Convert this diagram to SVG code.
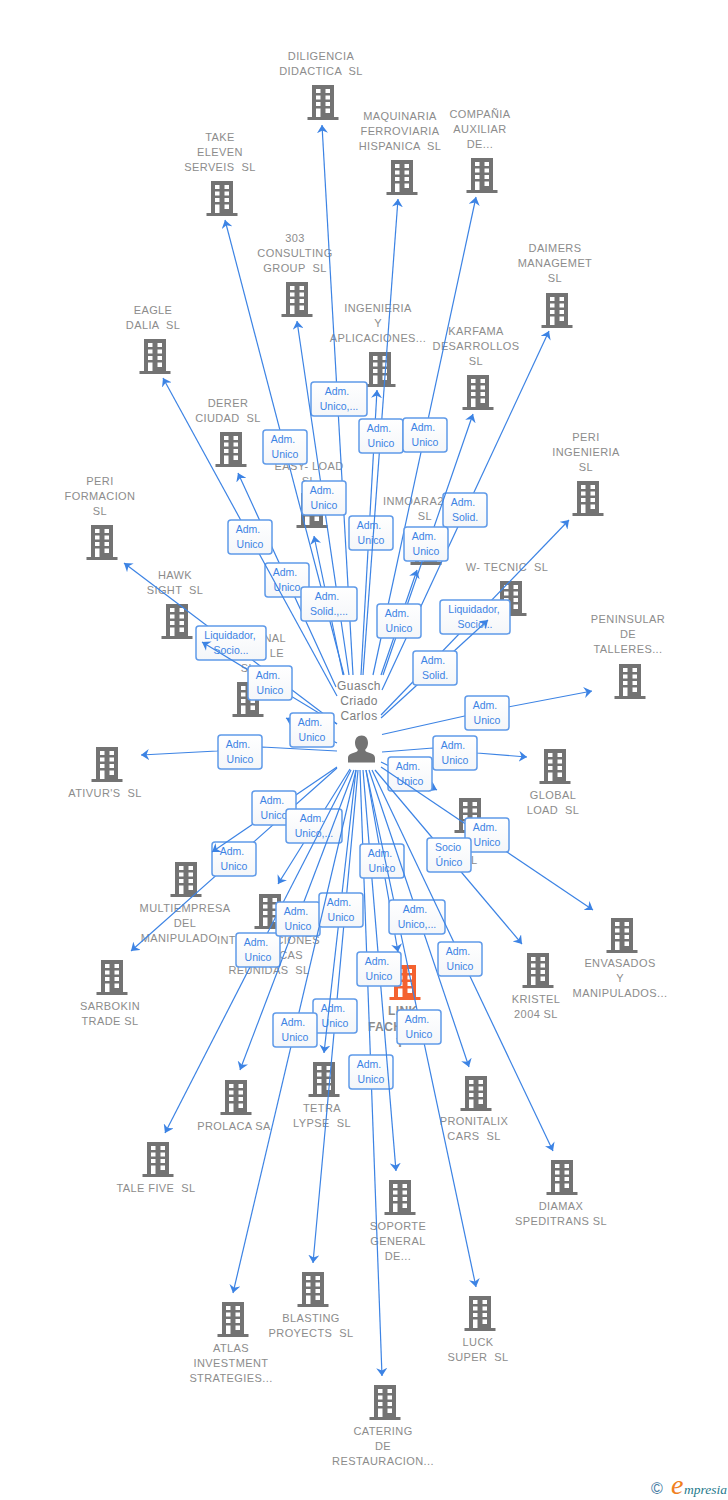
<svg xmlns="http://www.w3.org/2000/svg" width="728" height="1500" viewBox="0 0 728 1500">
<style>
text{font-family:"Liberation Sans",Arial,sans-serif}
.t{font-size:11px;fill:#8c8c8c;text-anchor:middle;letter-spacing:.4px;white-space:pre}
.s{text-anchor:start}.f{text-anchor:end}
.o{font-size:12px;font-weight:bold;fill:#8c8c8c;letter-spacing:.4px}
.g{font-size:12px;fill:#7d7d7d;text-anchor:middle;letter-spacing:.4px}
.c line,.c polyline{stroke:#3c83e4;stroke-width:1.2;marker-end:url(#a);fill:none}
.c rect{fill:url(#lg);stroke:#5f9ae9;stroke-width:1.5}
.c text{font-size:10.5px;fill:#3c83e4;text-anchor:middle}
</style>
<defs>
<linearGradient id="lg" x1="0" y1="0" x2="0" y2="1"><stop offset="0" stop-color="#fff"/><stop offset="1" stop-color="#f4f6f9"/></linearGradient>
<marker id="a" markerUnits="userSpaceOnUse" viewBox="0 0 8 11" refX="8" refY="5.5" markerWidth="8" markerHeight="11" orient="auto"><path d="M8,5.5L0,0L2.5,5.5L0,11z" fill="#3c83e4"/></marker>
<path id="w" d="M-7,4h4.5v4h-4.5zM2.5,4h4.5v4h-4.5zM-7,10.5h4.5v4h-4.5zM2.5,10.5h4.5v4h-4.5zM-7,17h4.5v4h-4.5zM2.5,17h4.5v4h-4.5zM-7,23.5h4.5v8.5h-4.5zM2.5,23.5h4.5v4.5h-4.5z" fill="#fff"/>
<g id="b"><path d="M-11,0h22v32h4.5v3h-31v-3h4.5z" fill="#737373"/><use href="#w"/></g>
<g id="bo"><path d="M-11,0h22v32h4.5v3h-31v-3h4.5z" fill="#f4622f"/><use href="#w"/></g>
</defs>
<g id="nodes">
<g id="n-diligencia"><use href="#b" x="323" y="85"/><text class="t" x="321" y="60">DILIGENCIA</text><text class="t" x="321" y="75">DIDACTICA  SL</text></g>
<g id="n-maquinaria"><use href="#b" x="402" y="160"/><text class="t" x="400" y="120">MAQUINARIA</text><text class="t" x="400" y="135">FERROVIARIA</text><text class="t" x="400" y="150">HISPANICA  SL</text></g>
<g id="n-compania"><use href="#b" x="482" y="158"/><text class="t" x="480" y="118">COMPAÑIA</text><text class="t" x="480" y="133">AUXILIAR</text><text class="t" x="480" y="148">DE...</text></g>
<g id="n-take"><use href="#b" x="222" y="181"/><text class="t" x="220" y="141">TAKE</text><text class="t" x="220" y="156">ELEVEN</text><text class="t" x="220" y="171">SERVEIS  SL</text></g>
<g id="n-303"><use href="#b" x="297" y="282"/><text class="t" x="295" y="242">303</text><text class="t" x="295" y="257">CONSULTING</text><text class="t" x="295" y="272">GROUP  SL</text></g>
<g id="n-daimers"><use href="#b" x="557" y="293"/><text class="t" x="555" y="252">DAIMERS</text><text class="t" x="555" y="267">MANAGEMET</text><text class="t" x="555" y="282">SL</text></g>
<g id="n-eagle"><use href="#b" x="155" y="339"/><text class="t" x="153" y="314">EAGLE</text><text class="t" x="153" y="329">DALIA  SL</text></g>
<g id="n-ingenieria"><use href="#b" x="380" y="352"/><text class="t" x="378" y="312">INGENIERIA</text><text class="t" x="378" y="327">Y</text><text class="t" x="378" y="342">APLICACIONES...</text></g>
<g id="n-karfama"><use href="#b" x="478" y="375"/><text class="t" x="476" y="335">KARFAMA</text><text class="t" x="476" y="350">DESARROLLOS</text><text class="t" x="476" y="365">SL</text></g>
<g id="n-derer"><use href="#b" x="231" y="432"/><text class="t" x="228" y="407">DERER</text><text class="t" x="228" y="422">CIUDAD  SL</text></g>
<g id="n-easy"><use href="#b" x="312" y="493"/><text class="t" x="309" y="470">EASY- LOAD</text><text class="t" x="309" y="485">SL</text></g>
<g id="n-periing"><use href="#b" x="588" y="481"/><text class="t" x="586" y="441">PERI</text><text class="t" x="586" y="456">INGENIERIA</text><text class="t" x="586" y="471">SL</text></g>
<g id="n-periform"><use href="#b" x="102" y="525"/><text class="t" x="100" y="485">PERI</text><text class="t" x="100" y="500">FORMACION</text><text class="t" x="100" y="515">SL</text></g>
<g id="n-inmoara"><use href="#b" x="426" y="530"/><text class="t s" x="383" y="505">INMOARA2</text><text class="t" x="425" y="520">SL</text></g>
<g id="n-wtecnic"><use href="#b" x="511" y="581"/><text class="t" x="507" y="571">W- TECNIC  SL</text></g>
<g id="n-hawk"><use href="#b" x="177" y="604"/><text class="t" x="175" y="579">HAWK</text><text class="t" x="175" y="594">SIGHT  SL</text></g>
<g id="n-peninsular"><use href="#b" x="630" y="664"/><text class="t" x="628" y="623">PENINSULAR</text><text class="t" x="628" y="638">DE</text><text class="t" x="628" y="653">TALLERES...</text></g>
<g id="n-nal"><use href="#b" x="248" y="682"/><text class="t f" x="286" y="642">NAL</text><text class="t f" x="284" y="657">LE</text><text class="t" x="248" y="672">SL</text></g>
<g id="n-ativur"><use href="#b" x="107" y="747"/><text class="t" x="105" y="797">ATIVUR'S  SL</text></g>
<g id="n-global"><use href="#b" x="555" y="749"/><text class="t" x="553" y="799">GLOBAL</text><text class="t" x="553" y="814">LOAD  SL</text></g>
<g id="n-hidden"><use href="#b" x="470" y="798"/><text class="t s" x="471" y="864">L</text></g>
<g id="n-envasados"><use href="#b" x="622" y="918"/><text class="t" x="620" y="967">ENVASADOS</text><text class="t" x="620" y="982">Y</text><text class="t" x="620" y="997">MANIPULADOS...</text></g>
<g id="n-multi"><use href="#b" x="186" y="862"/><text class="t" x="185" y="912">MULTIEMPRESA</text><text class="t" x="185" y="927">DEL</text><text class="t" x="179" y="942">MANIPULADO</text></g>
<g id="n-reunidas"><use href="#b" x="270" y="894"/><text class="t s" x="217" y="944">INT</text><text class="t f" x="320" y="944">CIONES</text><text class="t f" x="303" y="959">CAS</text><text class="t" x="269" y="974">REUNIDAS  SL</text></g>
<g id="n-sarbokin"><use href="#b" x="112" y="960"/><text class="t" x="110" y="1010">SARBOKIN</text><text class="t" x="110" y="1025">TRADE SL</text></g>
<g id="n-kristel"><use href="#b" x="538" y="953"/><text class="t" x="536" y="1003">KRISTEL</text><text class="t" x="536" y="1018">2004 SL</text></g>
<g id="n-link"><use href="#bo" x="405" y="965"/><text class="o" x="388" y="1015">LINK</text><text class="o" x="368" y="1031">FACH</text><text class="o" x="396" y="1047">Y</text></g>
<g id="n-tetra"><use href="#b" x="324" y="1062"/><text class="t" x="322" y="1112">TETRA</text><text class="t" x="322" y="1127">LYPSE  SL</text></g>
<g id="n-prolaca"><use href="#b" x="236" y="1080"/><text class="t" x="234" y="1130">PROLACA SA</text></g>
<g id="n-pronitalix"><use href="#b" x="476" y="1076"/><text class="t" x="474" y="1125">PRONITALIX</text><text class="t" x="474" y="1140">CARS  SL</text></g>
<g id="n-talefive"><use href="#b" x="158" y="1142"/><text class="t" x="156" y="1192">TALE FIVE  SL</text></g>
<g id="n-diamax"><use href="#b" x="562" y="1160"/><text class="t" x="561" y="1210">DIAMAX</text><text class="t" x="561" y="1225">SPEDITRANS SL</text></g>
<g id="n-soporte"><use href="#b" x="400" y="1180"/><text class="t" x="398" y="1230">SOPORTE</text><text class="t" x="398" y="1245">GENERAL</text><text class="t" x="398" y="1260">DE...</text></g>
<g id="n-blasting"><use href="#b" x="313" y="1272"/><text class="t" x="311" y="1322">BLASTING</text><text class="t" x="311" y="1337">PROYECTS  SL</text></g>
<g id="n-luck"><use href="#b" x="480" y="1296"/><text class="t" x="478" y="1346">LUCK</text><text class="t" x="478" y="1361">SUPER  SL</text></g>
<g id="n-atlas"><use href="#b" x="233" y="1302"/><text class="t" x="231" y="1352">ATLAS</text><text class="t" x="231" y="1367">INVESTMENT</text><text class="t" x="231" y="1382">STRATEGIES...</text></g>
<g id="n-catering"><use href="#b" x="385" y="1385"/><text class="t" x="383" y="1435">CATERING</text><text class="t" x="383" y="1450">DE</text><text class="t" x="383" y="1465">RESTAURACION...</text></g>
<g id="n-guasch"><path d="M361.700,735.500c4,0 6.300,3 6.300,7.500c0,3 -1.300,5.300 -2.800,6.800c0,1.500 1,2 3.200,2.700c4.300,1.300 6.600,2.500 6.600,5.500v4.500h-27v-4.500c0,-3 2.300,-4.200 6.600,-5.500c2.200,-.7 3.200,-1.200 3.200,-2.700c-1.500,-1.500 -2.800,-3.800 -2.800,-6.800c0,-4.500 2.300,-7.500 6.700,-7.500z" fill="#737373"/><text class="g" x="359" y="690">Guasch</text><text class="g" x="359" y="705">Criado</text><text class="g" x="359" y="720">Carlos</text></g>
</g>
<g id="connectors" class="c">
<line x1="353" y1="675" x2="322" y2="125"/><g transform="translate(339,399)"><rect x="-28" y="-17" width="56" height="34" rx="3"/><text x="-2" y="-4">Adm.</text><text y="11">Unico,...</text></g>
<line x1="344" y1="675" x2="225" y2="220"/><g transform="translate(285,447)"><rect x="-22" y="-17" width="44" height="34" rx="3"/><text x="-2" y="-4">Adm.</text><text y="11">Unico</text></g>
<line x1="361" y1="675" x2="377" y2="390"/><g transform="translate(371,533)"><rect x="-22" y="-17" width="44" height="34" rx="3"/><text x="-2" y="-4">Adm.</text><text y="11">Unico</text></g>
<line x1="363" y1="675" x2="398" y2="199"/><g transform="translate(381,436)"><rect x="-22" y="-17" width="44" height="34" rx="3"/><text x="-2" y="-4">Adm.</text><text y="11">Unico</text></g>
<line x1="373" y1="675" x2="476" y2="197"/><g transform="translate(425,435)"><rect x="-22" y="-17" width="44" height="34" rx="3"/><text x="-2" y="-4">Adm.</text><text y="11">Unico</text></g>
<line x1="349" y1="675" x2="297" y2="321"/><g transform="translate(324,498)"><rect x="-22" y="-17" width="44" height="34" rx="3"/><text x="-2" y="-4">Adm.</text><text y="11">Unico</text></g>
<line x1="336" y1="687" x2="238" y2="473"/><g transform="translate(287,580)"><rect x="-22" y="-17" width="44" height="34" rx="3"/><text x="-2" y="-4">Adm.</text><text y="11">Unico</text></g>
<line x1="337" y1="696" x2="163" y2="378"/><g transform="translate(250,537)"><rect x="-22" y="-17" width="44" height="34" rx="3"/><text x="-2" y="-4">Adm.</text><text y="11">Unico</text></g>
<line x1="382" y1="690" x2="549" y2="331"/><g transform="translate(465,510)"><rect x="-22" y="-17" width="44" height="34" rx="3"/><text x="-2" y="-4">Adm.</text><text y="11">Solid.</text></g>
<line x1="383" y1="675" x2="473" y2="414"/><g transform="translate(426,544)"><rect x="-22" y="-17" width="44" height="34" rx="3"/><text x="-2" y="-4">Adm.</text><text y="11">Unico</text></g>
<line x1="343" y1="675" x2="314" y2="536"/><g transform="translate(329,604)"><rect x="-28" y="-17" width="56" height="34" rx="3"/><text x="-2" y="-4">Adm.</text><text y="11">Solid.,...</text></g>
<line x1="381" y1="675" x2="417" y2="570"/><g transform="translate(399,621)"><rect x="-22" y="-17" width="44" height="34" rx="3"/><text x="-2" y="-4">Adm.</text><text y="11">Unico</text></g>
<line x1="381" y1="715" x2="569" y2="520"/><g transform="translate(475,617)"><rect x="-35" y="-17" width="70" height="34" rx="3"/><text x="-1" y="-4">Liquidador,</text><text y="11">Socio...</text></g>
<line x1="381" y1="718" x2="488" y2="620"/><g transform="translate(435,668)"><rect x="-22" y="-17" width="44" height="34" rx="3"/><text x="-2" y="-4">Adm.</text><text y="11">Solid.</text></g>
<line x1="337" y1="724" x2="124" y2="563"/><g transform="translate(231,643)"><rect x="-35" y="-17" width="70" height="34" rx="3"/><text x="-1" y="-4">Liquidador,</text><text y="11">Socio...</text></g>
<line x1="337" y1="724" x2="202" y2="642"/><g transform="translate(270,683)"><rect x="-22" y="-17" width="44" height="34" rx="3"/><text x="-2" y="-4">Adm.</text><text y="11">Unico</text></g>
<line x1="337" y1="743" x2="286" y2="718"/><g transform="translate(312,730)"><rect x="-22" y="-17" width="44" height="34" rx="3"/><text x="-2" y="-4">Adm.</text><text y="11">Unico</text></g>
<polyline points="382,734.500 487,711 592,691"/><g transform="translate(487,713)"><rect x="-22" y="-17" width="44" height="34" rx="3"/><text x="-2" y="-4">Adm.</text><text y="11">Unico</text></g>
<polyline points="337,751 262,747 217,751 141,755"/><g transform="translate(240,752)"><rect x="-22" y="-17" width="44" height="34" rx="3"/><text x="-2" y="-4">Adm.</text><text y="11">Unico</text></g>
<polyline points="382,752 433,748 477,753 527,757"/><g transform="translate(455,753)"><rect x="-22" y="-17" width="44" height="34" rx="3"/><text x="-2" y="-4">Adm.</text><text y="11">Unico</text></g>
<line x1="381" y1="762" x2="437" y2="790"/><g transform="translate(410,774)"><rect x="-22" y="-17" width="44" height="34" rx="3"/><text x="-2" y="-4">Adm.</text><text y="11">Unico</text></g>
<line x1="381" y1="767" x2="593" y2="910"/><g transform="translate(487,835)"><rect x="-22" y="-17" width="44" height="34" rx="3"/><text x="-2" y="-4">Adm.</text><text y="11">Unico</text></g>
<line x1="375" y1="770" x2="522" y2="944"/><g transform="translate(449,855)"><rect x="-22" y="-17" width="44" height="34" rx="3"/><text x="-1" y="-4">Socio</text><text y="11">Único</text></g>
<line x1="337" y1="768" x2="131" y2="951"/><g transform="translate(234,859)"><rect x="-22" y="-17" width="44" height="34" rx="3"/><text x="-2" y="-4">Adm.</text><text y="11">Unico</text></g>
<line x1="337" y1="767" x2="212" y2="852"/><g transform="translate(274,808)"><rect x="-22" y="-17" width="44" height="34" rx="3"/><text x="-2" y="-4">Adm.</text><text y="11">Unico</text></g>
<line x1="350" y1="769" x2="278" y2="884"/><g transform="translate(314,826)"><rect x="-28" y="-17" width="56" height="34" rx="3"/><text x="-2" y="-4">Adm.</text><text y="11">Unico,...</text></g>
<line x1="351" y1="770" x2="165" y2="1133"/><g transform="translate(258,950)"><rect x="-22" y="-17" width="44" height="34" rx="3"/><text x="-2" y="-4">Adm.</text><text y="11">Unico</text></g>
<line x1="354" y1="770" x2="240" y2="1070"/><g transform="translate(298,919)"><rect x="-22" y="-17" width="44" height="34" rx="3"/><text x="-2" y="-4">Adm.</text><text y="11">Unico</text></g>
<line x1="358" y1="770" x2="313" y2="1263"/><g transform="translate(335,1016)"><rect x="-22" y="-17" width="44" height="34" rx="3"/><text x="-2" y="-4">Adm.</text><text y="11">Unico</text></g>
<line x1="356" y1="770" x2="324" y2="1053"/><g transform="translate(341,910)"><rect x="-22" y="-17" width="44" height="34" rx="3"/><text x="-2" y="-4">Adm.</text><text y="11">Unico</text></g>
<line x1="356" y1="770" x2="233" y2="1293"/><g transform="translate(295,1030)"><rect x="-22" y="-17" width="44" height="34" rx="3"/><text x="-2" y="-4">Adm.</text><text y="11">Unico</text></g>
<line x1="360" y1="770" x2="382" y2="1376"/><g transform="translate(371,1072)"><rect x="-22" y="-17" width="44" height="34" rx="3"/><text x="-2" y="-4">Adm.</text><text y="11">Unico</text></g>
<line x1="363" y1="770" x2="396" y2="1171"/><g transform="translate(379,969)"><rect x="-22" y="-17" width="44" height="34" rx="3"/><text x="-2" y="-4">Adm.</text><text y="11">Unico</text></g>
<line x1="366" y1="770" x2="398" y2="952"/><g transform="translate(382,861)"><rect x="-22" y="-17" width="44" height="34" rx="3"/><text x="-2" y="-4">Adm.</text><text y="11">Unico</text></g>
<line x1="366" y1="770" x2="476" y2="1287"/><g transform="translate(419,1027)"><rect x="-22" y="-17" width="44" height="34" rx="3"/><text x="-2" y="-4">Adm.</text><text y="11">Unico</text></g>
<line x1="369" y1="770" x2="469" y2="1067"/><g transform="translate(417,917)"><rect x="-28" y="-17" width="56" height="34" rx="3"/><text x="-2" y="-4">Adm.</text><text y="11">Unico,...</text></g>
<line x1="372" y1="770" x2="553" y2="1151"/><g transform="translate(460,959)"><rect x="-22" y="-17" width="44" height="34" rx="3"/><text x="-2" y="-4">Adm.</text><text y="11">Unico</text></g>
</g>
<g id="logo">
<text x="651" y="1494" font-size="16" fill="#3f78a0">©</text>
<text x="671" y="1494" font-size="28" font-style="italic" style="font-family:'Liberation Serif',serif" fill="#f08020">e</text>
<text x="684" y="1494" font-size="13.500" font-style="italic" style="font-family:'Liberation Serif',serif" fill="#1f7a8c">mpresia</text>
</g>
</svg>
